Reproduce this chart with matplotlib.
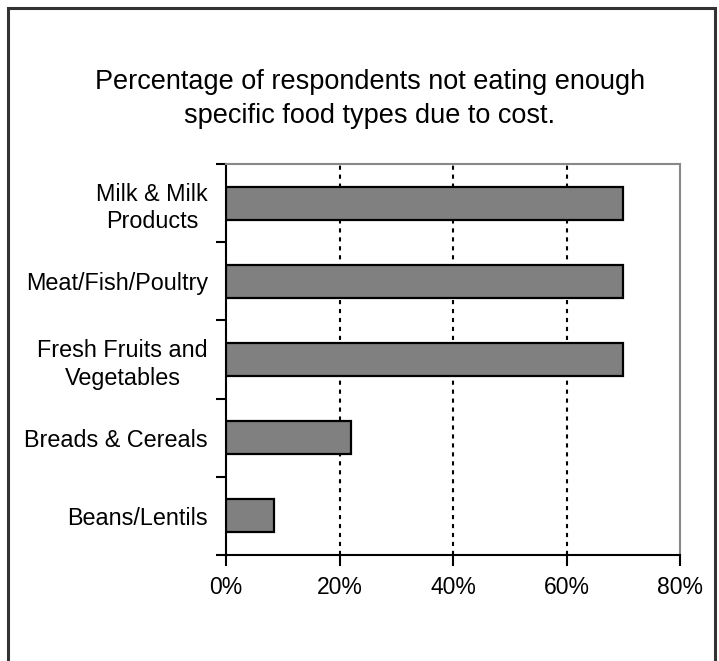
import matplotlib.pyplot as plt
from matplotlib.patches import Rectangle
from matplotlib.ticker import FixedLocator, PercentFormatter

# Food types, listed top to bottom
categories = ["Milk & Milk\nProducts", "Meat/Fish/Poultry",
              "Fresh Fruits and\nVegetables", "Breads & Cereals", "Beans/Lentils"]
percent_values = [70, 70, 70, 22, 8.5]
x_ticks = [0, 20, 40, 60, 80]

plt.rcParams["font.family"] = ["Liberation Sans", "DejaVu Sans"]

W, H = 719, 661
fig = plt.figure(figsize=(W / 100, H / 100), dpi=100)
ax = fig.add_axes([226 / W, 1 - 555 / H, (680 - 226) / W, (555 - 164) / H])

# Outer chart border
fig.patches.append(Rectangle((8 / W, -0.05), (715 - 8) / W, 1 - 8 / H + 0.05,
                             transform=fig.transFigure, fill=False,
                             edgecolor="#333333", linewidth=2.2))

n = len(categories)
positions = list(range(n))
ax.barh(positions, percent_values, height=0.42, color="#808080",
        edgecolor="black", linewidth=1.6, zorder=3)

ax.set_xlim(0, 80)
ax.set_ylim(n - 0.5, -0.5)
ax.xaxis.set_major_locator(FixedLocator(x_ticks))
ax.xaxis.set_major_formatter(PercentFormatter(decimals=0))
for v in x_ticks[1:-1]:
    ax.axvline(v, color="black", linestyle=(0, (2, 2.3)), linewidth=1.5, zorder=1)

# Category labels centred on bars, ticks on the category boundaries
ax.set_yticks(positions)
ax.set_yticklabels(categories, multialignment="center", linespacing=1.25)
ax.tick_params(axis="y", which="major", length=0, pad=13, labelsize=16.8)
ax.set_yticks([i - 0.5 for i in range(n + 1)], minor=True)
ax.tick_params(axis="y", which="minor", length=7, width=1.5, direction="out")
ax.tick_params(axis="x", length=8, width=1.5, direction="out", pad=7, labelsize=16.5)

for side in ("left", "bottom"):
    ax.spines[side].set_linewidth(1.5)
for side in ("top", "right"):
    ax.spines[side].set_color("#888888")
    ax.spines[side].set_linewidth(1.5)

fig.text(370 / W, 1 - 99 / H,
         "Percentage of respondents not eating enough\nspecific food types due to cost.",
         ha="center", va="center", fontsize=19.5, linespacing=1.42)

fig.savefig("out.png", dpi=100)
